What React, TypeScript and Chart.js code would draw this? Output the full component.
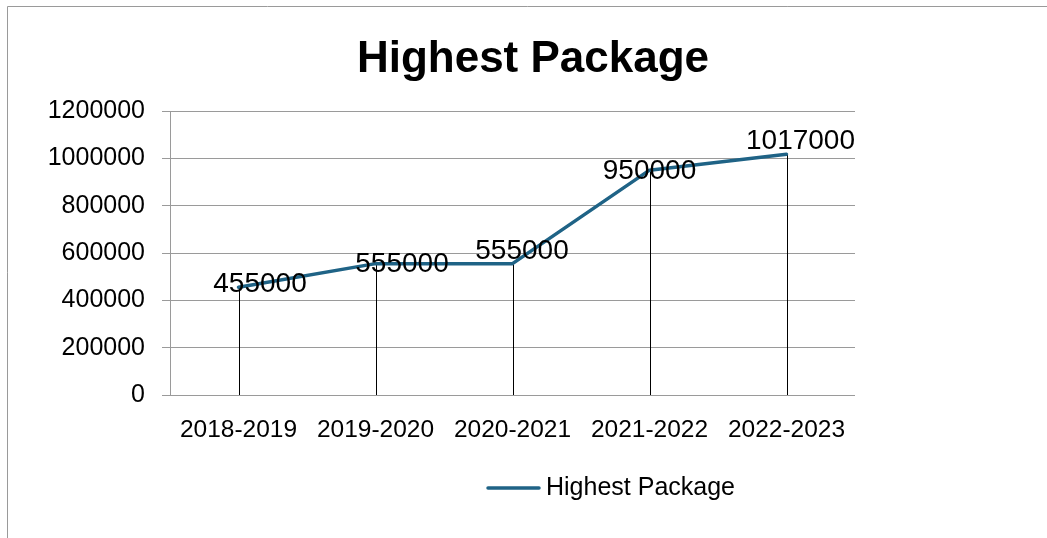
import React, { useEffect, useRef } from "react";
import { Chart, registerables } from "chart.js";

Chart.register(...registerables);

const TITLE = "Highest Package";
const SERIES_NAME = "Highest Package";
const categories = ["2018-2019", "2019-2020", "2020-2021", "2021-2022", "2022-2023"];
const values = [455000, 555000, 555000, 950000, 1017000];
const yTicks = [0, 200000, 400000, 600000, 800000, 1000000, 1200000];

// label placement offsets (px) relative to each point: [dx, dy] to cap-centre
const labelOffsets = [
  [21.5, -5],
  [26.5, -1.7],
  [9.5, -14.7],
  [0, -1.5],
  [14, -15.3],
];

const LINE_COLOR = "#1f6386";
const GRID_COLOR = "#9a9a9a";
const FONT = "'Liberation Sans', Arial, sans-serif";
const LABEL_SIZE = 28;

const W = 1047;
const H = 538;

export default function App() {
  const ref = useRef<HTMLCanvasElement | null>(null);

  useEffect(() => {
    const canvas = ref.current;
    if (!canvas) return;

    const decor = {
      id: "decor",
      beforeDraw(chart: any) {
        const ctx = chart.ctx;
        ctx.save();
        ctx.fillStyle = "#ffffff";
        ctx.fillRect(0, 0, W, H);
        ctx.strokeStyle = GRID_COLOR;
        ctx.lineWidth = 1;
        ctx.beginPath();
        ctx.moveTo(7.5, H);
        ctx.lineTo(7.5, 6.5);
        ctx.lineTo(W, 6.5);
        ctx.stroke();
        // title
        ctx.fillStyle = "#000";
        ctx.font = `bold 44px ${FONT}`;
        ctx.textAlign = "center";
        ctx.textBaseline = "alphabetic";
        ctx.fillText(TITLE, 533, 72);
        // legend
        ctx.strokeStyle = LINE_COLOR;
        ctx.lineWidth = 3.5;
        ctx.lineCap = "round";
        ctx.beginPath();
        ctx.moveTo(488, 488);
        ctx.lineTo(539, 488);
        ctx.stroke();
        ctx.font = `25px ${FONT}`;
        ctx.textAlign = "left";
        ctx.fillText(SERIES_NAME, 546, 495);
        ctx.restore();
      },
      beforeDatasetsDraw(chart: any) {
        const ctx = chart.ctx;
        const x = chart.scales.x;
        const y = chart.scales.y;
        ctx.save();
        ctx.strokeStyle = "#000";
        ctx.lineWidth = 1;
        values.forEach((v, i) => {
          const px = Math.round(x.getPixelForValue(i)) + 0.5;
          ctx.beginPath();
          ctx.moveTo(px, y.getPixelForValue(0));
          ctx.lineTo(px, y.getPixelForValue(v));
          ctx.stroke();
        });
        ctx.restore();
      },
      afterDatasetsDraw(chart: any) {
        const ctx = chart.ctx;
        const x = chart.scales.x;
        const y = chart.scales.y;
        ctx.save();
        ctx.fillStyle = "#000";
        ctx.font = `${LABEL_SIZE}px ${FONT}`;
        ctx.textAlign = "center";
        ctx.textBaseline = "alphabetic";
        values.forEach((v, i) => {
          const px = x.getPixelForValue(i) + labelOffsets[i][0];
          const py = y.getPixelForValue(v) + labelOffsets[i][1] + 0.358 * LABEL_SIZE;
          ctx.fillText(String(v), px, py);
        });
        ctx.restore();
      },
    };

    const chart = new Chart(canvas, {
      type: "line",
      data: {
        labels: categories,
        datasets: [
          {
            label: SERIES_NAME,
            data: values,
            borderColor: LINE_COLOR,
            backgroundColor: LINE_COLOR,
            borderWidth: 3.5,
            pointRadius: 0,
            tension: 0,
            borderJoinStyle: "round",
            borderCapStyle: "round",
          },
        ],
      },
      options: {
        responsive: false,
        animation: false,
        events: [],
        layout: { padding: { top: 111, right: 192, bottom: 0, left: 0 } },
        plugins: {
          legend: { display: false },
          title: { display: false },
          tooltip: { enabled: false },
        },
        scales: {
          x: {
            offset: true,
            afterFit(scale: any) {
              scale.height = 143;
            },
            grid: { display: false, drawTicks: false, offset: true },
            border: { display: false },
            ticks: {
              color: "#000",
              font: { family: FONT, size: 24.5 },
              padding: 21,
              maxRotation: 0,
              autoSkip: false,
            },
          },
          y: {
            min: 0,
            max: 1200000,
            afterFit(scale: any) {
              scale.width = 170;
            },
            afterBuildTicks(scale: any) {
              scale.ticks = yTicks.map((v) => ({ value: v }));
            },
            grid: { color: GRID_COLOR, lineWidth: 1, drawTicks: true, tickLength: 8 },
            border: { display: true, color: GRID_COLOR, width: 1 },
            ticks: {
              color: "#000",
              font: { family: FONT, size: 25 },
              padding: 17,
              callback: (v: any) => String(v),
            },
          },
        },
      },
      plugins: [decor],
    });

    return () => chart.destroy();
  }, []);

  return (
    <div style={{ position: "absolute", left: 0, top: 0, width: W, height: H }}>
      <canvas ref={ref} width={W} height={H} style={{ display: "block", width: W, height: H }} />
    </div>
  );
}
